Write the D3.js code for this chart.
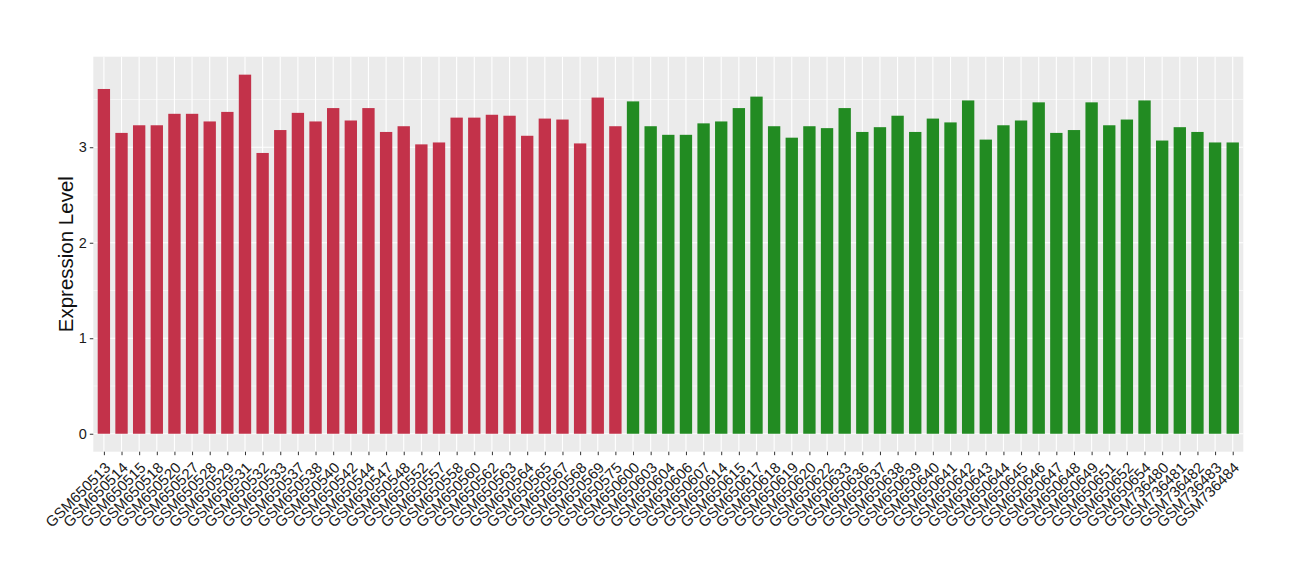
<!DOCTYPE html>
<html>
<head>
<meta charset="utf-8">
<script src="https://cdn.jsdelivr.net/npm/d3@7/dist/d3.min.js"></script>
<style>
  html, body { margin: 0; padding: 0; background: #fff; }
  svg { display: block; }
  text { font-family: "Liberation Sans", Arial, Helvetica, sans-serif; }
</style>
</head>
<body>
<svg id="chart" width="1300" height="580"></svg>
<script>
const groupA = ["GSM650513","GSM650514","GSM650515","GSM650518","GSM650520","GSM650527","GSM650528","GSM650529","GSM650531","GSM650532","GSM650533","GSM650537","GSM650538","GSM650540","GSM650542","GSM650544","GSM650547","GSM650548","GSM650552","GSM650557","GSM650558","GSM650560","GSM650562","GSM650563","GSM650564","GSM650565","GSM650567","GSM650568","GSM650569","GSM650575"];
const valuesA = [3.61,3.15,3.23,3.23,3.35,3.35,3.27,3.37,3.76,2.94,3.18,3.36,3.27,3.41,3.28,3.41,3.16,3.22,3.03,3.05,3.31,3.31,3.34,3.33,3.12,3.30,3.29,3.04,3.52,3.22];
const groupB = ["GSM650600","GSM650603","GSM650604","GSM650606","GSM650607","GSM650614","GSM650615","GSM650617","GSM650618","GSM650619","GSM650620","GSM650622","GSM650633","GSM650636","GSM650637","GSM650638","GSM650639","GSM650640","GSM650641","GSM650642","GSM650643","GSM650644","GSM650645","GSM650646","GSM650647","GSM650648","GSM650649","GSM650651","GSM650652","GSM650654","GSM736480","GSM736481","GSM736482","GSM736483","GSM736484"];
const valuesB = [3.48,3.22,3.13,3.13,3.25,3.27,3.41,3.53,3.22,3.10,3.22,3.20,3.41,3.16,3.21,3.33,3.16,3.30,3.26,3.49,3.08,3.23,3.28,3.47,3.15,3.18,3.47,3.23,3.29,3.49,3.07,3.21,3.16,3.05,3.05];
const yTicks = [0,1,2,3];
const colorA = "#C3324A";
const colorB = "#228B22";

const data = groupA.map((s,i)=>({s, v: valuesA[i], c: colorA}))
  .concat(groupB.map((s,i)=>({s, v: valuesB[i], c: colorB})));

const svg = d3.select("#chart");
const pLeft = 93.3, pRight = 1243.3, pTop = 56.7, pBottom = 451.7;

const maxV = d3.max(data, d=>d.v);
const y = d3.scaleLinear().domain([-0.05*maxV, 1.05*maxV]).range([pBottom, pTop]);
const n = data.length;
const step = (pRight-pLeft)/(n - 1 + 1.2);
const x = d3.scalePoint().domain(data.map(d=>d.s)).range([pLeft + 0.6*step, pRight - 0.6*step]);
const bw = step*0.7;

// panel
svg.append("rect").attr("x", pLeft).attr("y", pTop).attr("width", pRight-pLeft).attr("height", pBottom-pTop).attr("fill", "#EBEBEB");

// minor y grid
const minor = [0.5,1.5,2.5,3.5];
svg.append("g").selectAll("line").data(minor).join("line")
  .attr("x1", pLeft).attr("x2", pRight)
  .attr("y1", d=>y(d)).attr("y2", d=>y(d))
  .attr("stroke", "#fff").attr("stroke-width", 0.55);
// major y grid
svg.append("g").selectAll("line").data(yTicks).join("line")
  .attr("x1", pLeft).attr("x2", pRight)
  .attr("y1", d=>y(d)).attr("y2", d=>y(d))
  .attr("stroke", "#fff").attr("stroke-width", 1.1);
// major x grid
svg.append("g").selectAll("line").data(data).join("line")
  .attr("x1", d=>x(d.s)).attr("x2", d=>x(d.s))
  .attr("y1", pTop).attr("y2", pBottom)
  .attr("stroke", "#fff").attr("stroke-width", 1.1);

// bars
svg.append("g").selectAll("rect").data(data).join("rect")
  .attr("x", d=>x(d.s) - bw/2)
  .attr("width", bw)
  .attr("y", d=>y(d.v))
  .attr("height", d=>y(0) - y(d.v))
  .attr("fill", d=>d.c);

// y axis
const yAxis = svg.append("g").attr("transform", `translate(${pLeft},0)`)
  .call(d3.axisLeft(y).tickValues(yTicks).tickSize(3.5).tickPadding(3).tickFormat(d3.format("d")));
yAxis.select(".domain").remove();
yAxis.selectAll(".tick line").attr("stroke", "#333").attr("stroke-width", 1);
yAxis.selectAll(".tick text").attr("font-size", 14.5).attr("fill", "#1a1a1a")
  .attr("font-family", "Liberation Sans, Arial, sans-serif");

// x axis
const xAxis = svg.append("g").attr("transform", `translate(0,${pBottom})`)
  .call(d3.axisBottom(x).tickSize(3.5).tickPadding(0));
xAxis.select(".domain").remove();
xAxis.selectAll(".tick line").attr("stroke", "#333").attr("stroke-width", 1);
xAxis.selectAll(".tick text")
  .attr("font-size", 15).attr("fill", "#1a1a1a")
  .attr("font-family", "Liberation Sans, Arial, sans-serif")
  .attr("text-anchor", "end")
  .attr("dy", null)
  .attr("y", 0)
  .attr("transform", "translate(7,17) rotate(-45)");

// y title
svg.append("text")
  .attr("transform", `translate(73,${(pTop+pBottom)/2}) rotate(-90)`)
  .attr("text-anchor", "middle")
  .attr("font-size", 20.5)
  .attr("fill", "#111")
  .text("Expression Level");
</script>
</body>
</html>
